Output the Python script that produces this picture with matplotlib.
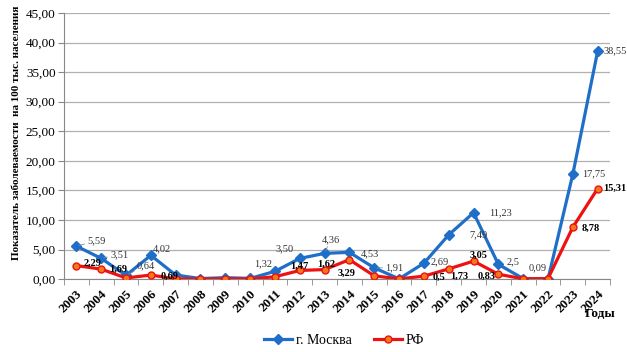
import matplotlib
matplotlib.use("Agg")
from matplotlib import pyplot as plt
import numpy as np

plt.rcParams['font.family'] = ['Liberation Serif', 'DejaVu Serif']

years = [str(y) for y in range(2003, 2025)]
moscow = [5.59, 3.51, 0.64, 4.02, 0.69, 0.10, 0.25, 0.12, 1.32, 3.50, 4.36, 4.53,
          1.91, 0.05, 2.69, 7.49, 11.23, 2.5, 0.09, 0.0, 17.75, 38.55]
rf = [2.29, 1.69, 0.20, 0.69, 0.05, 0.02, 0.05, 0.05, 0.40, 1.47, 1.62, 3.29,
      0.55, 0.05, 0.5, 1.73, 3.05, 0.83, 0.05, 0.10, 8.78, 15.31]

# which points get a label, with label offset in pixels (dx, dy)
moscow_labels = {0: (20, 5), 1: (18, 4), 2: (20, 10), 3: (11, 7), 8: (-12, 8),
                 9: (-15, 10), 10: (6, 14), 11: (20, -1), 12: (20, 0),
                 14: (16, 1), 15: (30, 0), 16: (27, 0), 17: (15, 3), 18: (14, 11),
                 20: (21, 0), 21: (18, 0)}
rf_labels = {0: (16, 2), 1: (17, 0), 3: (19, -1), 9: (0, 4), 10: (2, 5),
             11: (-3, -14), 14: (15, -1), 15: (11, -7), 16: (5, 6), 17: (-12, -2),
             20: (18, -1), 21: (17, 0)}
leaders = [0, 1, 2, 10, 12]

def fmt(v):
    s = '%.2f' % v
    if v in (2.5, 0.5):
        s = s[:-1]
    return s.replace('.', ',')

fig = plt.figure(figsize=(6.27, 3.52), dpi=100)
ax = fig.add_axes([0.102, 0.207, 0.871, 0.756])

x = np.arange(len(years))
ax.plot(x, moscow, color='#1f6fc8', lw=2.3, marker='D', ms=5,
        mfc='#1f6fc8', mec='#1f6fc8', label='г. Москва', zorder=3)
ax.plot(x, rf, color='#ee1111', lw=2.3, marker='o', ms=5,
        mfc='#f07a1a', mec='#ee1111', mew=1, label='РФ', zorder=3)

for i, (dx, dy) in moscow_labels.items():
    arrow = dict(arrowstyle='-', color='#888888', lw=0.6, shrinkA=8, shrinkB=2) if i in leaders else None
    ax.annotate(fmt(moscow[i]), (x[i], moscow[i]), xytext=(dx, dy),
                textcoords='offset pixels', fontsize=7.5, color='#333333',
                ha='center', va='center', arrowprops=arrow)
for i, (dx, dy) in rf_labels.items():
    ax.annotate(fmt(rf[i]), (x[i], rf[i]), xytext=(dx, dy),
                textcoords='offset pixels', fontsize=7.5, color='black',
                fontweight='bold', ha='center', va='center')

ax.set_xlim(-0.5, len(years) - 0.5)
ax.set_ylim(0, 45)
ax.set_yticks(np.arange(0, 46, 5))
ax.yaxis.set_major_formatter(matplotlib.ticker.FuncFormatter(
    lambda v, p: ('%.2f' % v).replace('.', ',')))
ax.tick_params(axis='y', labelsize=9.5)
ax.set_xticks(x)
ax.set_xticklabels(years, rotation=45, fontsize=9.5, fontweight='bold',
                   ha='right', rotation_mode='anchor')
ax.set_xticks(np.arange(-0.5, len(years)), minor=True)
ax.tick_params(axis='x', which='major', length=0, pad=6)
ax.tick_params(axis='x', which='minor', length=4, color='#888888')
ax.tick_params(axis='y', length=4, color='#888888', pad=2)

ax.grid(axis='y', color='#b0b0b0', lw=0.9)
ax.set_axisbelow(True)
for s in ['top', 'right']:
    ax.spines[s].set_visible(False)
ax.spines['left'].set_color('#888888')
ax.spines['bottom'].set_color('#888888')

fig.text(0.027, 0.262, 'Показатель заболеваемости  на 100 тыс. населения',
         fontsize=8, fontweight='bold', rotation=90, ha='center', va='bottom')
fig.text(0.957, 0.1, 'Годы', fontsize=9.5, fontweight='bold', ha='center')

fig.legend(loc='lower center', bbox_to_anchor=(0.549, -0.02), ncol=2, frameon=False,
           fontsize=10, handlelength=2.0, columnspacing=1.6, handletextpad=0.3)

fig.savefig('out.png', dpi=100)
